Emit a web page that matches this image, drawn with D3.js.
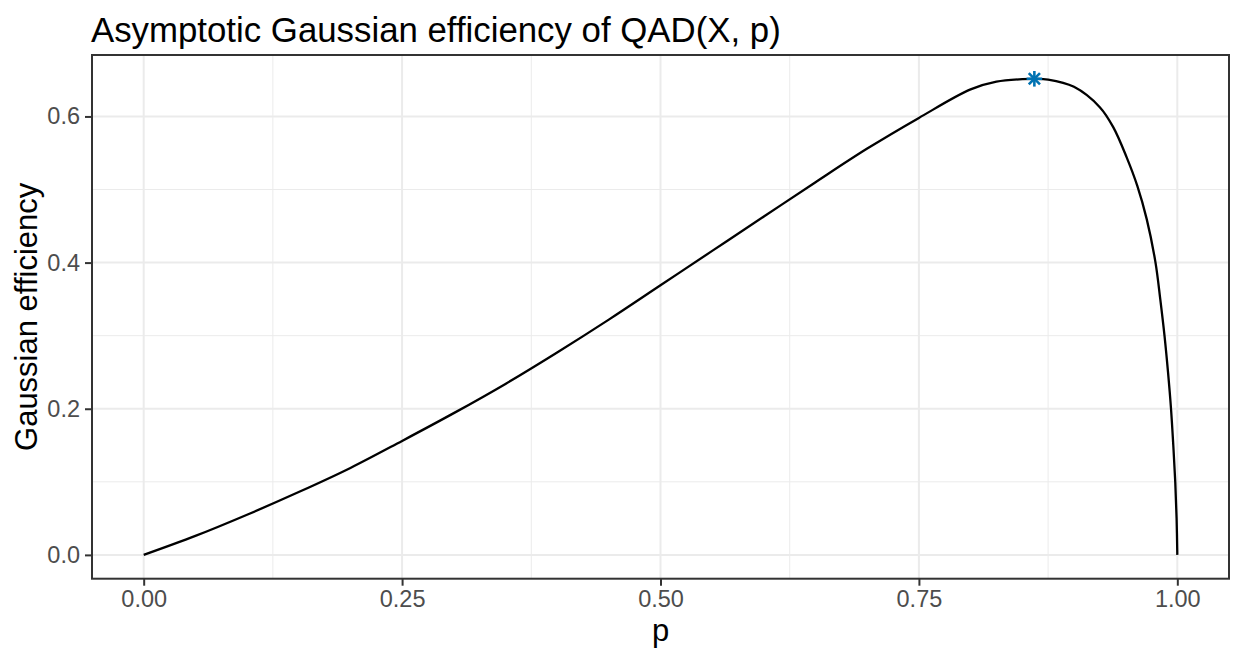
<!DOCTYPE html>
<html>
<head>
<meta charset="utf-8">
<script src="https://cdn.jsdelivr.net/npm/d3@7"></script>
<style>
  html, body { margin: 0; padding: 0; background: #fff; }
  svg { display: block; font-family: "Liberation Sans", Arial, sans-serif; }
</style>
</head>
<body>
<svg id="chart" width="1233" height="652"></svg>
<script>
// ---- data ----
const pValues   = [0, 0.05, 0.10, 0.15, 0.20, 0.25, 0.30, 0.35, 0.40, 0.45, 0.50, 0.55, 0.60, 0.65, 0.70, 0.75, 0.80, 0.825, 0.85, 0.8617, 0.875, 0.90, 0.925, 0.938, 0.951, 0.9613, 0.9704, 0.9789, 0.9835, 0.9876, 0.991, 0.9939, 0.9961, 0.998, 0.9993, 1.0];
const effValues = [0, 0.026, 0.055, 0.086, 0.119, 0.156, 0.194, 0.234, 0.277, 0.322, 0.369, 0.416, 0.463, 0.510, 0.556, 0.598, 0.637, 0.6475, 0.651, 0.6515, 0.6505, 0.6405, 0.6127, 0.5854, 0.544, 0.505, 0.4595, 0.400, 0.350, 0.300, 0.250, 0.200, 0.150, 0.100, 0.050, 0];
const maxPoint = { p: 0.8617, eff: 0.6515 };
const xTicks = [0, 0.25, 0.5, 0.75, 1.0];
const xTickLabels = ["0.00", "0.25", "0.50", "0.75", "1.00"];
const xMinor = [0.125, 0.375, 0.625, 0.875];
const yTicks = [0, 0.2, 0.4, 0.6];
const yTickLabels = ["0.0", "0.2", "0.4", "0.6"];
const yMinor = [0.1, 0.3, 0.5];
const titleText = "Asymptotic Gaussian efficiency of QAD(X, p)";
const xTitle = "p";
const yTitle = "Gaussian efficiency";

// ---- layout ----
const panel = { left: 92, right: 1229, top: 55, bottom: 578.7 };
const svg = d3.select("#chart");

const yMax = d3.max(effValues);
const yPad = 0.05 * (yMax - 0);
const x = d3.scaleLinear().domain([-0.05, 1.05]).range([panel.left, panel.right]);
const y = d3.scaleLinear().domain([0 - yPad, yMax + yPad]).range([panel.bottom, panel.top]);

svg.append("rect")
  .attr("x", panel.left).attr("y", panel.top)
  .attr("width", panel.right - panel.left).attr("height", panel.bottom - panel.top)
  .attr("fill", "#fff");

const grid = svg.append("g");
grid.selectAll("line.xminor").data(xMinor).enter().append("line")
  .attr("x1", d => x(d)).attr("x2", d => x(d))
  .attr("y1", panel.top).attr("y2", panel.bottom)
  .attr("stroke", "#EBEBEB").attr("stroke-width", 1);
grid.selectAll("line.yminor").data(yMinor).enter().append("line")
  .attr("y1", d => y(d)).attr("y2", d => y(d))
  .attr("x1", panel.left).attr("x2", panel.right)
  .attr("stroke", "#EBEBEB").attr("stroke-width", 1);
grid.selectAll("line.xmajor").data(xTicks).enter().append("line")
  .attr("x1", d => x(d)).attr("x2", d => x(d))
  .attr("y1", panel.top).attr("y2", panel.bottom)
  .attr("stroke", "#EBEBEB").attr("stroke-width", 2);
grid.selectAll("line.ymajor").data(yTicks).enter().append("line")
  .attr("y1", d => y(d)).attr("y2", d => y(d))
  .attr("x1", panel.left).attr("x2", panel.right)
  .attr("stroke", "#EBEBEB").attr("stroke-width", 2);

// curve
const data = pValues.map((p, i) => ({ p, eff: effValues[i] }));
const line = d3.line().x(d => x(d.p)).y(d => y(d.eff)).curve(d3.curveCatmullRom.alpha(0.5));
svg.append("path").datum(data)
  .attr("d", line)
  .attr("fill", "none")
  .attr("stroke", "#000")
  .attr("stroke-width", 2.3)
  .attr("stroke-linejoin", "round");

// asterisk marker (shape 8)
const star = svg.append("g")
  .attr("transform", `translate(${x(maxPoint.p)},${y(maxPoint.eff)})`)
  .attr("stroke", "#0072B2").attr("stroke-width", 2.6).attr("stroke-linecap", "butt");
const r = 7.8, rd = 5.6;
star.append("line").attr("x1", 0).attr("x2", 0).attr("y1", -r).attr("y2", r);
star.append("line").attr("x1", -r).attr("x2", r).attr("y1", 0).attr("y2", 0);
star.append("line").attr("x1", -rd).attr("x2", rd).attr("y1", -rd).attr("y2", rd);
star.append("line").attr("x1", -rd).attr("x2", rd).attr("y1", rd).attr("y2", -rd);

// panel border
svg.append("rect")
  .attr("x", panel.left).attr("y", panel.top)
  .attr("width", panel.right - panel.left).attr("height", panel.bottom - panel.top)
  .attr("fill", "none").attr("stroke", "#333333").attr("stroke-width", 2);

// axes
const xAxis = d3.axisBottom(x).tickValues(xTicks)
  .tickFormat((d, i) => xTickLabels[i]).tickSize(7).tickPadding(5);
const gx = svg.append("g").attr("transform", `translate(0,${panel.bottom})`).call(xAxis);
gx.select(".domain").remove();
gx.selectAll(".tick line").attr("stroke", "#333333").attr("stroke-width", 2);
gx.selectAll(".tick text").attr("fill", "#4D4D4D").attr("font-size", "23.5px")
  .attr("font-family", "Liberation Sans, Arial, sans-serif");

const yAxis = d3.axisLeft(y).tickValues(yTicks)
  .tickFormat((d, i) => yTickLabels[i]).tickSize(7).tickPadding(5);
const gy = svg.append("g").attr("transform", `translate(${panel.left},0)`).call(yAxis);
gy.select(".domain").remove();
gy.selectAll(".tick line").attr("stroke", "#333333").attr("stroke-width", 2);
gy.selectAll(".tick text").attr("fill", "#4D4D4D").attr("font-size", "23.5px")
  .attr("font-family", "Liberation Sans, Arial, sans-serif");

// titles
svg.append("text").attr("x", 91).attr("y", 42)
  .attr("font-size", "34.8px").attr("fill", "#000").text(titleText);
svg.append("text").attr("x", (panel.left + panel.right) / 2).attr("y", 641)
  .attr("text-anchor", "middle").attr("font-size", "31px").attr("fill", "#000").text(xTitle);
svg.append("text")
  .attr("transform", `translate(37,${(panel.top + panel.bottom) / 2}) rotate(-90)`)
  .attr("text-anchor", "middle").attr("font-size", "31px").attr("fill", "#000").text(yTitle);
</script>
</body>
</html>
